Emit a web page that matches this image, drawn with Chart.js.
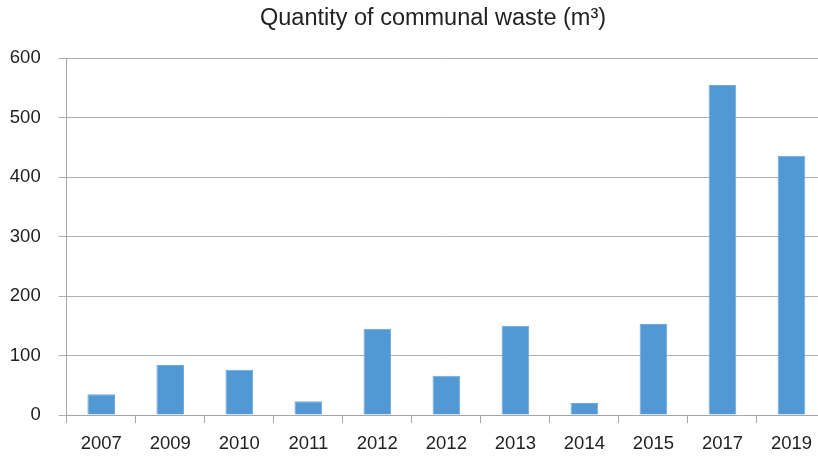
<!DOCTYPE html>
<html><head><meta charset="utf-8">
<script src="https://cdn.jsdelivr.net/npm/chart.js@4.4.1/dist/chart.umd.min.js"></script>
<style>html,body{margin:0;padding:0;overflow:hidden;background:#fff}canvas{display:block}</style>
</head><body>
<canvas id="c" width="826" height="457"></canvas>
<script>
const categories = ['2007','2009','2010','2011','2012','2012','2013','2014','2015','2017','2019'];
const wasteValues = [35, 84, 76, 23, 145, 66, 150, 20, 153, 555, 436];
const yTickValues = [0, 100, 200, 300, 400, 500, 600];
const chartTitle = 'Quantity of communal waste (m\u00B3)';

const FONT = '"Liberation Sans", Arial, sans-serif';
const titleShift = {
  id: 'titleShift',
  afterLayout(chart) {
    const t = chart.titleBlock;
    if (t) { t.left += 16; t.right += 16; }
  }
};

new Chart(document.getElementById('c'), {
  type: 'bar',
  data: {
    labels: categories,
    datasets: [{
      data: wasteValues,
      backgroundColor: '#5198D4',
      borderColor: '#6CA8DC',
      borderWidth: 1,
      barPercentage: 0.8,
      categoryPercentage: 0.5
    }]
  },
  options: {
    responsive: false,
    animation: false,
    layout: { padding: { left: 8, right: 0, top: 0, bottom: 2 } },
    plugins: {
      legend: { display: false },
      tooltip: { enabled: false },
      title: {
        display: true,
        text: chartTitle,
        color: '#222',
        font: { family: FONT, size: 23.5, weight: 'normal' },
        padding: { top: 4, bottom: 26 }
      }
    },
    scales: {
      x: {
        afterFit(axis) { axis.height = 40; },
        grid: { offset: true, drawOnChartArea: false, drawTicks: true, tickLength: 8, color: '#A6A6A6' },
        border: { display: true, color: '#A6A6A6' },
        ticks: { color: '#222', font: { family: FONT, size: 18.5 }, padding: 10, maxRotation: 0, autoSkip: false }
      },
      y: {
        min: 0, max: 600,
        afterBuildTicks(axis) { axis.ticks = yTickValues.map(v => ({ value: v })); },
        afterFit(axis) { axis.width = 58.7; },
        grid: { color: '#B0B0B0', tickLength: 8, drawTicks: true },
        border: { display: true, color: '#A6A6A6' },
        ticks: { color: '#222', font: { family: FONT, size: 18.5 }, padding: 18 }
      }
    }
  },
  plugins: [titleShift]
});
</script>
</body></html>
